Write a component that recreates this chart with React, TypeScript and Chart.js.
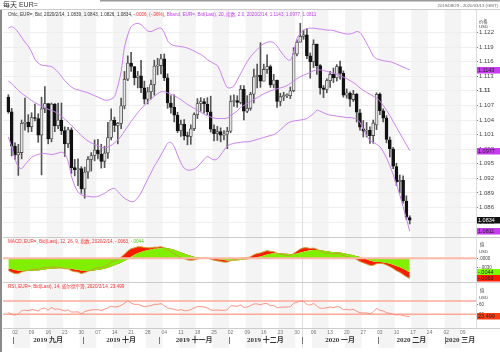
import React, { useEffect, useRef } from 'react';
import { Chart, registerables } from 'chart.js';

Chart.register(...registerables);

// ---------- data ----------
const weekLabels = ['02','09','16','23','30','07','14','21','28','04','11','18','25','02','09','16','23','30','06','13','20','27','03','10','17','24','02','09'];
const monthNames = ['2019 九月','2019 十月','2019 十一月','2019 十二月','2020 一月','2020 二月','2020 三月'];
const monthStart = [2, 23, 46, 67, 89, 112, 132];
const monthEnd = [22, 45, 66, 88, 111, 131, 141];
const priceTicks = [1.083,1.086,1.089,1.092,1.095,1.098,1.101,1.104,1.107,1.11,1.113,1.116,1.119,1.122];
const macdTicks = [0, -0.003];
const rsiTicks = [60, 30];

const open = [
1.1087,1.1057,1.0986,1.0968,1.0973,1.1033,1.1035,1.1026,1.1045,1.1043,
1.1009,1.1063,1.1074,1.1001,1.1073,1.1028,1.1040,1.1018,1.0991,1.1020,
1.0942,1.0938,1.0940,1.0898,1.0933,1.0959,1.0967,1.0978,1.0970,1.0955,
1.0972,1.1004,1.1040,1.1029,1.1033,1.1069,1.1124,1.1157,1.1150,1.1127,
1.1131,1.1106,1.1083,1.1098,1.1113,1.1151,1.1152,1.1166,1.1127,1.1075,
1.1066,1.1050,1.1018,1.1031,1.1007,1.1006,1.1022,1.1051,1.1074,1.1078,
1.1073,1.1057,1.1021,1.1012,1.1016,1.1009,1.1011,1.1017,1.1078,1.1080,
1.1076,1.1103,1.1058,1.1064,1.1093,1.1129,1.1132,1.1120,1.1144,1.1150,
1.1112,1.1122,1.1078,1.1088,1.1090,1.1090,1.1100,1.1176,1.1200,1.1212,
1.1215,1.1172,1.1160,1.1196,1.1152,1.1106,1.1103,1.1121,1.1134,1.1127,
1.1150,1.1136,1.1091,1.1095,1.1082,1.1093,1.1055,1.1022,1.1017,1.1019,
1.1008,1.1030,1.1093,1.1059,1.1044,1.0999,1.0980,1.0944,1.0913,1.0916,
1.0873,1.0839];
const high = [
1.1092,1.1064,1.0993,1.0990,1.1040,1.1085,1.1051,1.1055,1.1073,1.1053,
1.1087,1.1109,1.1074,1.1075,1.1074,1.1075,1.1075,1.1026,1.1025,1.1024,
1.0959,1.0960,1.0944,1.0943,1.0965,1.0973,1.0999,1.1000,1.0990,1.0986,
1.1035,1.1063,1.1046,1.1035,1.1085,1.1140,1.1172,1.1179,1.1150,1.1140,
1.1163,1.1120,1.1107,1.1122,1.1163,1.1167,1.1175,1.1176,1.1135,1.1090,
1.1092,1.1056,1.1040,1.1041,1.1015,1.1030,1.1055,1.1084,1.1086,1.1084,
1.1086,1.1089,1.1030,1.1027,1.1024,1.1018,1.1025,1.1090,1.1092,1.1090,
1.1111,1.1111,1.1090,1.1097,1.1145,1.1155,1.1199,1.1155,1.1174,1.1153,
1.1134,1.1122,1.1095,1.1097,1.1094,1.1108,1.1189,1.1205,1.1239,1.1225,
1.1228,1.1178,1.1205,1.1196,1.1154,1.1111,1.1125,1.1140,1.1147,1.1154,
1.1161,1.1141,1.1104,1.1098,1.1101,1.1095,1.1062,1.1039,1.1035,1.1026,
1.1040,1.1096,1.1096,1.1063,1.1049,1.1005,1.0984,1.0951,1.0927,1.0925,
1.0884,1.0843];
const low = [
1.1054,1.0966,1.0959,1.0926,1.0960,1.1019,1.1015,1.1016,1.1038,1.0994,
1.0927,1.1055,1.0991,1.0995,1.1016,1.1022,1.1010,1.0965,1.0983,1.0930,
1.0925,1.0905,1.0889,1.0879,1.0920,1.0935,1.0956,1.0960,1.0941,1.0942,
1.0961,1.0999,1.1016,1.0991,1.1022,1.1063,1.1121,1.1140,1.1112,1.1106,
1.1096,1.1073,1.1073,1.1083,1.1091,1.1133,1.1135,1.1121,1.1064,1.1054,
1.1036,1.1014,1.1006,1.0999,1.0989,1.0990,1.1018,1.1043,1.1058,1.1054,
1.1051,1.1015,1.0997,1.0998,1.0995,1.0999,1.0981,1.1014,1.1068,1.1066,
1.1073,1.1040,1.1055,1.1060,1.1075,1.1106,1.1107,1.1120,1.1136,1.1107,
1.1106,1.1066,1.1069,1.1080,1.1086,1.1084,1.1098,1.1172,1.1200,1.1206,
1.1166,1.1126,1.1148,1.1134,1.1093,1.1086,1.1096,1.1107,1.1117,1.1120,
1.1124,1.1087,1.1085,1.1068,1.1078,1.1036,1.1019,1.1005,1.1005,1.0992,
1.0992,1.1020,1.1051,1.1036,1.0993,1.0964,1.0940,1.0905,1.0890,1.0869,
1.0835,1.0826];
const close = [
1.1057,1.0986,1.0968,1.0973,1.1033,1.1035,1.1026,1.1045,1.1043,1.1009,
1.1063,1.1074,1.1001,1.1073,1.1028,1.1040,1.1018,1.0991,1.1020,1.0942,
1.0938,1.0940,1.0898,1.0933,1.0959,1.0967,1.0978,1.0970,1.0955,1.0972,
1.1004,1.1040,1.1029,1.1033,1.1069,1.1124,1.1157,1.1150,1.1127,1.1131,
1.1106,1.1083,1.1098,1.1113,1.1151,1.1152,1.1166,1.1127,1.1075,1.1066,
1.1050,1.1018,1.1031,1.1007,1.1006,1.1022,1.1051,1.1074,1.1078,1.1073,
1.1057,1.1021,1.1012,1.1016,1.1009,1.1011,1.1017,1.1078,1.1080,1.1076,
1.1103,1.1058,1.1064,1.1093,1.1129,1.1132,1.1120,1.1144,1.1150,1.1112,
1.1122,1.1078,1.1088,1.1090,1.1090,1.1100,1.1176,1.1200,1.1212,1.1215,
1.1172,1.1160,1.1196,1.1152,1.1106,1.1103,1.1121,1.1134,1.1127,1.1150,
1.1136,1.1091,1.1096,1.1083,1.1093,1.1056,1.1025,1.1017,1.1019,1.1008,
1.1034,1.1093,1.1059,1.1044,1.1000,1.0981,1.0945,1.0913,1.0916,1.0874,
1.0840,1.0834];

const bbUpper = [
1.1229,1.1232,1.1228,1.1220,1.1210,1.1200,1.1192,1.1180,1.1165,1.1157,
1.1153,1.1152,1.1151,1.1150,1.1145,1.1138,1.1130,1.1121,1.1114,1.1108,
1.1104,1.1102,1.1100,1.1098,1.1096,1.1093,1.1090,1.1087,1.1084,1.1081,
1.1081,1.1083,1.1088,1.1110,1.1140,1.1190,1.1215,1.1232,1.1237,1.1239,
1.1236,1.1230,1.1223,1.1222,1.1225,1.1228,1.1229,1.1220,1.1203,1.1196,
1.1193,1.1192,1.1191,1.1190,1.1188,1.1185,1.1182,1.1178,1.1175,1.1170,
1.1164,1.1160,1.1156,1.1152,1.1138,1.1120,1.1107,1.1106,1.1110,1.1122,
1.1135,1.1148,1.1160,1.1170,1.1178,1.1185,1.1192,1.1197,1.1200,1.1201,
1.1199,1.1192,1.1182,1.1173,1.1165,1.1163,1.1180,1.1208,1.1218,1.1224,
1.1228,1.1229,1.1229,1.1228,1.1227,1.1226,1.1225,1.1225,1.1224,1.1222,
1.1220,1.1218,1.1217,1.1217,1.1219,1.1222,1.1220,1.1210,1.1198,1.1185,
1.1172,1.1166,1.1164,1.1162,1.1161,1.1160,1.1158,1.1155,1.1152,1.1149,
1.1146,1.1143];
const bbMid = [
1.1120,1.1115,1.1108,1.1101,1.1095,1.1090,1.1085,1.1080,1.1076,1.1072,
1.1069,1.1066,1.1062,1.1060,1.1057,1.1053,1.1048,1.1042,1.1036,1.1029,
1.1022,1.1015,1.1008,1.1002,1.0997,1.0993,1.0990,1.0987,1.0984,1.0983,
1.0984,1.0988,1.0993,1.0999,1.1007,1.1017,1.1027,1.1037,1.1046,1.1055,
1.1063,1.1070,1.1077,1.1083,1.1089,1.1094,1.1098,1.1098,1.1096,1.1093,
1.1090,1.1086,1.1082,1.1077,1.1072,1.1068,1.1064,1.1060,1.1056,1.1052,
1.1049,1.1046,1.1044,1.1043,1.1043,1.1043,1.1044,1.1049,1.1054,1.1059,
1.1066,1.1070,1.1074,1.1078,1.1082,1.1086,1.1090,1.1094,1.1097,1.1100,
1.1102,1.1104,1.1106,1.1108,1.1111,1.1115,1.1120,1.1125,1.1129,1.1132,
1.1135,1.1138,1.1141,1.1143,1.1143,1.1142,1.1140,1.1138,1.1136,1.1134,
1.1131,1.1128,1.1125,1.1121,1.1117,1.1112,1.1106,1.1101,1.1097,1.1093,
1.1089,1.1085,1.1079,1.1070,1.1060,1.1049,1.1037,1.1025,1.1013,1.1001,
1.0989,1.0977];
const bbLower = [
1.1005,1.0985,1.0960,1.0944,1.0940,1.0948,1.0956,1.0963,1.0967,1.0969,
1.0971,1.0971,1.0970,1.0969,1.0970,1.0972,1.0974,1.0970,1.0955,1.0925,
1.0905,1.0892,1.0886,1.0884,1.0883,1.0882,1.0882,1.0883,1.0886,1.0889,
1.0894,1.0898,1.0899,1.0893,1.0885,1.0879,1.0875,1.0872,1.0873,1.0880,
1.0890,1.0904,1.0918,1.0931,1.0945,1.0956,1.0968,1.0980,1.0992,1.0994,
1.0985,1.0968,1.0952,1.0941,1.0937,1.0937,1.0939,1.0944,1.0951,1.0959,
1.0965,1.0961,1.0958,1.0960,1.0968,1.0978,1.0986,1.0990,1.0992,1.0993,
1.0994,1.0995,1.0995,1.0996,1.0998,1.1000,1.1002,1.1004,1.1006,1.1008,
1.1010,1.1014,1.1020,1.1026,1.1032,1.1036,1.1038,1.1039,1.1040,1.1041,
1.1043,1.1048,1.1053,1.1060,1.1058,1.1055,1.1052,1.1050,1.1049,1.1048,
1.1047,1.1046,1.1045,1.1045,1.1044,1.1042,1.1035,1.1022,1.1008,1.0998,
1.0994,1.0990,1.0985,1.0975,1.0962,1.0946,1.0928,1.0908,1.0886,1.0862,
1.0837,1.0811];

const macd = [
-.0038,-.0044,-.0048,-.0048,-.0043,-.0040,-.0038,-.0035,-.0034,-.0035,
-.0031,-.0028,-.0031,-.0027,-.0028,-.0028,-.0030,-.0033,-.0033,-.0039,
-.0042,-.0043,-.0048,-.0045,-.0041,-.0037,-.0033,-.0030,-.0029,-.0026,
-.0020,-.0012,-.0007,-.0003,.0004,.0013,.0023,.0030,.0033,.0036,
.0036,.0034,.0033,.0033,.0035,.0035,.0036,.0033,.0027,.0021,
.0015,.0008,.0004,-.0001,-.0005,-.0006,-.0005,-.0002,.0000,.0001,
.0000,-.0003,-.0006,-.0008,-.0010,-.0012,-.0012,-.0008,-.0005,-.0003,
.0001,.0001,.0002,.0005,.0011,.0015,.0017,.0021,.0024,.0022,
.0021,.0016,.0013,.0011,.0009,.0009,.0015,.0022,.0029,.0033,
.0033,.0031,.0032,.0029,.0023,.0018,.0016,.0015,.0014,.0015,
.0014,.0009,.0006,.0003,.0001,-.0004,-.0010,-.0014,-.0018,-.0022,
-.0022,-.0017,-.0016,-.0017,-.0021,-.0026,-.0032,-.0039,-.0044,-.0051,
-.0058,-.0063];
const signal = [
-.0032,-.0034,-.0037,-.0039,-.0040,-.0040,-.0040,-.0039,-.0038,-.0038,
-.0037,-.0035,-.0034,-.0033,-.0032,-.0031,-.0031,-.0031,-.0032,-.0033,
-.0035,-.0036,-.0039,-.0040,-.0040,-.0039,-.0038,-.0036,-.0035,-.0033,
-.0030,-.0026,-.0022,-.0018,-.0014,-.0008,-.0002,.0005,.0011,.0016,
.0020,.0023,.0026,.0028,.0030,.0031,.0032,.0033,.0032,.0030,
.0027,.0023,.0019,.0015,.0011,.0008,.0005,.0003,.0002,.0001,
.0001,.0000,-.0001,-.0002,-.0004,-.0005,-.0007,-.0007,-.0007,-.0006,
-.0005,-.0004,-.0003,-.0001,.0001,.0004,.0006,.0009,.0012,.0014,
.0016,.0016,.0016,.0015,.0014,.0013,.0013,.0015,.0018,.0021,
.0023,.0025,.0026,.0027,.0026,.0024,.0023,.0021,.0020,.0019,
.0018,.0016,.0014,.0012,.0010,.0007,.0004,.0000,-.0003,-.0007,
-.0010,-.0011,-.0012,-.0013,-.0015,-.0017,-.0020,-.0024,-.0028,-.0033,
-.0038,-.0044];
const rsi = [
35,30,28,31,41,42,41,44,43,40,
47,48,43,50,45,46,43,40,43,37,
37,37,32,38,41,43,44,44,42,45,
49,54,52,53,57,63,70,64,60,60,
56,53,55,56,60,60,62,56,49,47,
45,42,44,41,41,44,49,53,53,52,
49,43,42,43,42,42,44,55,55,54,
58,51,52,56,61,61,59,62,62,56,
57,50,51,52,52,53,63,66,70,68,
60,58,62,55,48,48,50,52,50,53,
51,44,45,43,45,39,35,34,34,32,
37,47,42,40,35,33,30,28,29,26,
24,23.499];

// ---------- style ----------
const SANS = '"Liberation Sans", "Noto Sans CJK SC", sans-serif';
const SERIF = '"Liberation Serif", "Noto Sans CJK SC", serif';
const X_MIN = -1.618;
const X_MAX = 140.98;
const VIOLET = '#cc80f0';
const LAST = close.length - 1;

const fmtMacd = (v: number) => (v < 0 ? '-' : '') + Math.abs(v).toFixed(4).replace(/^0/, '');

function runs(ctx: CanvasRenderingContext2D, x: number, y: number, parts: [string, string][], font: string) {
  ctx.font = font;
  ctx.textBaseline = 'middle';
  ctx.textAlign = 'left';
  for (const [t, c] of parts) {
    ctx.fillStyle = c;
    ctx.fillText(t, x, y);
    x += ctx.measureText(t).width;
  }
}

function tag(ctx: CanvasRenderingContext2D, y: number, text: string, bg: string, fg: string) {
  ctx.fillStyle = bg;
  ctx.fillRect(477, Math.round(y) - 3, 23, 6.5);
  ctx.fillStyle = fg;
  ctx.font = `5.5px ${SANS}`;
  ctx.textBaseline = 'middle';
  ctx.textAlign = 'left';
  ctx.fillText(text, 478, Math.round(y) + 0.3);
}

const panelPlugin = {
  id: 'panels',
  beforeDraw(chart: any) {
    const { ctx, chartArea: a, scales } = chart;
    const xs = scales.x;
    ctx.save();
    ctx.fillStyle = '#ffffff';
    ctx.fillRect(0, 0, chart.width, chart.height);
    ctx.fillStyle = '#f4f4f4';
    weekLabels.forEach((_, k) => {
      if (k % 2) return;
      const m = 2 + 5 * k;
      const x0 = Math.max(a.left, xs.getPixelForValue(m - 0.5));
      const x1 = Math.min(a.right, xs.getPixelForValue(m + 4.5));
      if (x1 > x0) ctx.fillRect(x0, a.top, x1 - x0, 348 - a.top);
    });
    ctx.restore();
  },
  beforeDatasetsDraw(chart: any) {
    const { ctx, chartArea: a, scales } = chart;
    ctx.save();
    const xy = Math.round(scales.x.getPixelForValue(monthStart[4] - 0.5)) + 0.5;
    ctx.strokeStyle = '#dddddd';
    ctx.lineWidth = 1;
    ctx.beginPath(); ctx.moveTo(xy, a.top); ctx.lineTo(xy, 348); ctx.stroke();
    ctx.strokeStyle = '#ffa898';
    ctx.lineWidth = 1.5;
    [70, 30].forEach((v) => {
      const y = scales.yR.getPixelForValue(v);
      ctx.beginPath(); ctx.moveTo(a.left, y); ctx.lineTo(a.right, y); ctx.stroke();
    });
    ctx.restore();
  },
  afterDatasetsDraw(chart: any) {
    const { ctx, chartArea: a, scales } = chart;
    ctx.save();
    const y0 = scales.yM.getPixelForValue(0);
    ctx.strokeStyle = '#ffb8a8';
    ctx.lineWidth = 2;
    ctx.beginPath(); ctx.moveTo(a.left, y0); ctx.lineTo(a.right, y0); ctx.stroke();
    ctx.restore();
  },
  afterDraw(chart: any) {
    const { ctx, chartArea: a, scales } = chart;
    const xs = scales.x;
    ctx.save();
    ctx.strokeStyle = '#cccccc';
    ctx.lineWidth = 1;
    [scales.y.bottom, scales.yM.bottom, a.bottom].forEach((y: number) => {
      const yy = Math.round(y) + 0.5;
      ctx.beginPath(); ctx.moveTo(a.left, yy); ctx.lineTo(chart.width, yy); ctx.stroke();
    });
    ctx.beginPath(); ctx.moveTo(0, 9.5); ctx.lineTo(chart.width, 9.5); ctx.stroke();
    ctx.strokeStyle = '#dddddd';
    ctx.beginPath(); ctx.moveTo(a.right + 0.5, a.top); ctx.lineTo(a.right + 0.5, a.bottom); ctx.stroke();
    ctx.fillStyle = '#8a8a8a';
    ctx.fillRect(0, 10, 2, chart.height - 10);
    ctx.fillStyle = '#9a9a9a';
    ctx.fillRect(100, 0, chart.width - 100, 1.5);
    runs(ctx, 3, 5, [['每天 EUR=', '#333333']], `7px ${SANS}`);
    ctx.font = `4.3px ${SANS}`;
    ctx.fillStyle = '#666666';
    ctx.textAlign = 'right';
    ctx.textBaseline = 'middle';
    ctx.fillText('2019/08/29 - 2020/03/13 (GMT)', 498, 6);

    const f = (v: number) => v.toFixed(4);
    const chg = close[LAST] - close[LAST - 1];
    runs(ctx, 8, 14.5, [
      [`Ohlc, EUR=, Bid, 2020/2/14, ${f(open[LAST])}, ${f(high[LAST])}, ${f(low[LAST])}, ${f(close[LAST])}, `, '#333333'],
      [`${fmtMacd(chg)}, (-.06%), `, '#ff3030'],
      [`Bband, EUR=, Bid(Last), 20, 指数, 2.0, 2020/2/14, ${f(bbUpper[LAST])}, ${f(bbMid[LAST])}, ${f(bbLower[LAST])}`, '#c040f0'],
    ], `4.6px ${SANS}`);
    runs(ctx, 8, scales.yM.top + 5, [
      [`MACD, EUR=, Bid(Last), 12, 26, 9, 指数, 2020/2/14, ${fmtMacd(macd[LAST])}, `, '#ff3030'],
      [fmtMacd(signal[LAST]), '#44cc00'],
    ], `4.6px ${SANS}`);
    runs(ctx, 8, scales.yR.top + 5, [
      [`RSI, EUR=, Bid(Last), 14, 威尔德平滑, 2020/2/14, ${rsi[LAST].toFixed(3)}`, '#ff3030'],
    ], `4.6px ${SANS}`);

    ctx.fillStyle = '#444444';
    ctx.font = `4.3px ${SANS}`;
    ctx.textAlign = 'left';
    ctx.fillText('价格', 479, 21.5);
    ctx.fillText('USD', 479, 26.5);
    ctx.fillText('值', 480, scales.yM.top + 8);
    ctx.fillText('USD', 479, scales.yM.top + 15);
    ctx.fillText('值', 480, scales.yR.top + 9);
    ctx.fillText('USD', 479, scales.yR.top + 15.5);

    tag(ctx, scales.y.getPixelForValue(bbUpper[LAST]), f(bbUpper[LAST]), '#c83cf0', '#222222');
    tag(ctx, scales.y.getPixelForValue(bbMid[LAST]), f(bbMid[LAST]), '#c83cf0', '#222222');
    tag(ctx, scales.y.getPixelForValue(close[LAST]), f(close[LAST]), '#111111', '#ffffff');
    tag(ctx, scales.y.getPixelForValue(bbLower[LAST]), f(bbLower[LAST]), '#c83cf0', '#222222');
    tag(ctx, scales.yM.getPixelForValue(signal[LAST]), fmtMacd(signal[LAST]), '#7cfc00', '#222222');
    tag(ctx, scales.yM.getPixelForValue(macd[LAST]), fmtMacd(macd[LAST]), '#ff1a00', '#222222');
    tag(ctx, scales.yR.getPixelForValue(rsi[LAST]), rsi[LAST].toFixed(3), '#ff3c14', '#222222');

    const my = 340.5;
    monthNames.forEach((name, k) => {
      const xs0 = xs.getPixelForValue(monthStart[k] - 0.5);
      const xs1 = Math.min(a.right, xs.getPixelForValue(monthEnd[k] + 0.5));
      ctx.strokeStyle = '#777777';
      ctx.lineWidth = 1;
      const sx = Math.round(xs0) + 0.5;
      ctx.beginPath(); ctx.moveTo(sx, my - 3.5); ctx.lineTo(sx, my + 3.5); ctx.stroke();
      ctx.fillStyle = '#333333';
      ctx.font = `bold 7px ${SERIF}`;
      ctx.textAlign = 'center';
      ctx.textBaseline = 'middle';
      ctx.fillText(name, (xs0 + xs1) / 2, my);
    });
    ctx.restore();
  },
};

export default function App() {
  const ref = useRef<HTMLCanvasElement | null>(null);

  useEffect(() => {
    if (!ref.current) return;
    const idx = close.map((_, i) => i);
    const up = (i: number) => close[i] >= open[i];
    const line = (vals: number[], axis: string, color: string, order: number, extra: any = {}) => ({
      type: 'line',
      data: vals.map((v, i) => ({ x: i, y: v })),
      yAxisID: axis,
      borderColor: color,
      borderWidth: 1,
      pointRadius: 0,
      tension: 0.3,
      fill: false,
      order,
      ...extra,
    });

    const chart = new Chart(ref.current, {
      type: 'bar',
      data: {
        datasets: [
          {
            type: 'bar',
            data: idx.map((i) => ({ x: i, y: [low[i], high[i]] })),
            yAxisID: 'y',
            backgroundColor: '#555555',
            barThickness: 1,
            grouped: false,
            order: 16,
          },
          {
            type: 'bar',
            data: idx.map((i) => ({ x: i, y: [open[i], close[i]] })),
            yAxisID: 'y',
            backgroundColor: idx.map((i) => (up(i) ? '#e4e4e4' : '#111111')),
            borderColor: idx.map((i) => (up(i) ? '#444444' : '#111111')),
            borderWidth: 0.8,
            borderSkipped: false,
            barThickness: 3,
            minBarLength: 1,
            grouped: false,
            order: 15,
          },
          line(bbUpper, 'y', VIOLET, 14),
          line(bbMid, 'y', VIOLET, 13),
          line(bbLower, 'y', VIOLET, 12),
          line(macd, 'yM', 'rgba(0,0,0,0)', 20, { borderWidth: 0, fill: { target: 6 }, backgroundColor: '#ff1a00', tension: 0.2 }),
          line(signal, 'yM', 'rgba(0,0,0,0)', 19, { borderWidth: 0, fill: 'origin', backgroundColor: '#80f000', tension: 0.2 }),
          line(macd, 'yM', '#c8a030', 18, { tension: 0.2 }),
          line(rsi, 'yR', '#ff8c78', 17, { tension: 0.2 }),
        ] as any,
      },
      options: {
        animation: false,
        responsive: false,
        maintainAspectRatio: false,
        layout: { padding: { top: 10, left: 3, right: 0, bottom: 0 } },
        plugins: { legend: { display: false }, tooltip: { enabled: false } },
        scales: {
          x: {
            type: 'linear',
            min: X_MIN,
            max: X_MAX,
            offset: false,
            grid: { display: false, offset: false, drawTicks: false, tickLength: 0 },
            border: { display: false },
            afterBuildTicks: (s: any) => { s.ticks = weekLabels.map((_, k) => ({ value: 2 + 5 * k })); },
            afterFit: (s: any) => { s.height = 24; },
            ticks: {
              autoSkip: false,
              maxRotation: 0,
              padding: 2,
              color: '#777777',
              font: { size: 5, family: SANS },
              callback: (v: any) => weekLabels[Math.round((Number(v) - 2) / 5)],
            },
          },
          y: {
            type: 'linear',
            position: 'right',
            stack: 'panels',
            stackWeight: 227,
            weight: 1,
            min: 1.07993,
            max: 1.12663,
            afterBuildTicks: (s: any) => { s.ticks = priceTicks.map((v) => ({ value: v })); },
            afterFit: (s: any) => { s.width = 24; },
            border: { display: false },
            grid: { color: '#eeeeee', tickColor: '#777777', tickLength: 2, drawTicks: true },
            ticks: {
              autoSkip: false,
              padding: 1,
              color: '#444444',
              font: (c: any) => ({ size: 6, family: SANS, weight: c.tick && Math.abs(c.tick.value - 1.11) < 1e-6 ? 'bold' : 'normal' }),
              callback: (v: any) => String(Number(Number(v).toFixed(3))),
            },
          },
          yM: {
            type: 'linear',
            position: 'right',
            stack: 'panels',
            stackWeight: 45,
            weight: 2,
            min: -0.00745,
            max: 0.0067,
            afterBuildTicks: (s: any) => { s.ticks = macdTicks.map((v) => ({ value: v })); },
            afterFit: (s: any) => { s.width = 24; },
            border: { display: false },
            grid: { display: true, drawOnChartArea: false, tickColor: '#777777', tickLength: 2 },
            ticks: { autoSkip: false, padding: 1, color: '#444444', font: { size: 4.5, family: SANS }, callback: (v: any) => fmtMacd(Number(v)) },
          },
          yR: {
            type: 'linear',
            position: 'right',
            stack: 'panels',
            stackWeight: 46,
            weight: 3,
            min: -11.2,
            max: 127.1,
            afterBuildTicks: (s: any) => { s.ticks = rsiTicks.map((v) => ({ value: v })); },
            afterFit: (s: any) => { s.width = 24; },
            border: { display: false },
            grid: { display: true, drawOnChartArea: false, tickColor: '#777777', tickLength: 2 },
            ticks: { autoSkip: false, padding: 1, color: '#444444', font: { size: 4.5, family: SANS }, callback: (v: any) => String(v) },
          },
        },
      } as any,
      plugins: [panelPlugin],
    });
    return () => chart.destroy();
  }, []);

  return (
    <div style={{ position: 'fixed', left: 0, top: 0, width: 500, height: 352, background: '#fff' }}>
      <canvas ref={ref} width={500} height={352} style={{ width: 500, height: 352, display: 'block' }} />
    </div>
  );
}
